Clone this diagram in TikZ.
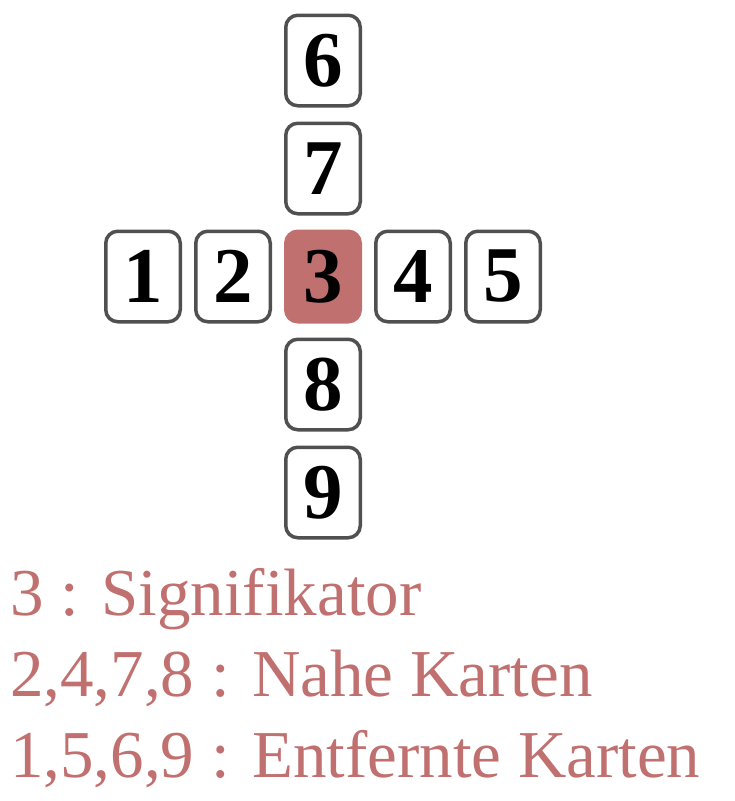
\documentclass[tikz,border=0pt]{standalone}
\usepackage{fontspec}
\setmainfont{Liberation Serif}
\usepackage{xcolor}
\usepackage{tikz}
\usetikzlibrary{positioning}
\definecolor{rose}{RGB}{193,112,112}
\definecolor{cardgray}{RGB}{80,80,80}

\begin{document}
\begin{tikzpicture}[x=1pt, y=-1pt,
    card/.style={draw=cardgray, line width=3.5pt, rounded corners=12pt, fill=white,
      minimum width=74.5pt, minimum height=90.5pt, inner sep=0pt,
      font=\fontsize{79}{79}\selectfont\bfseries},
    signif/.style={card, draw=rose, fill=rose},
    legend/.style={anchor=base west, inner sep=0pt, text=rose,
      font=\fontsize{67}{80}\selectfont},
    node distance=14pt and 12pt]
    \useasboundingbox (0,0) rectangle (735,801);

    % Cross of cards
    \node[signif] (c3) at (323,276.5) {3};
    \node[card, left=of c3] (c2) {2};
    \node[card, left=of c2] (c1) {1};
    \node[card, right=of c3] (c4) {4};
    \node[card, right=of c4] (c5) {5};
    \node[card, above=of c3] (c7) {7};
    \node[card, above=of c7] (c6) {6};
    \node[card, below=of c3] (c8) {8};
    \node[card, below=of c8] (c9) {9};

    % Legend
    \node[legend] (l1) at (10,615) {3 : Signifikator};
    \node[legend] (l2) at (10,696) {2,4,7,8 : Nahe Karten};
    \node[legend] (l3) at (10,777) {1,5,6,9 : Entfernte Karten};
\end{tikzpicture}
\end{document}
